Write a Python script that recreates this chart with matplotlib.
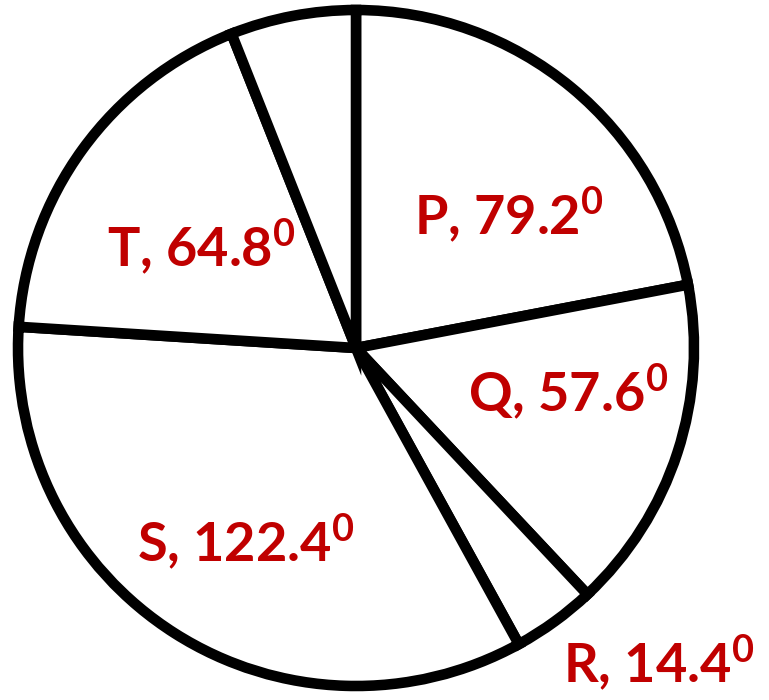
import matplotlib.pyplot as plt

# slice angles in degrees (unlabelled slice is the remainder)
labels = ["P", "Q", "R", "S", "T", ""]
angles = [79.2, 57.6, 14.4, 122.4, 64.8, 21.6]
label_pos = [(414, 235), (468, 412), (563, 683), (137, 562), (107, 267)]

plt.rcParams["mathtext.fontset"] = "custom"
plt.rcParams["mathtext.rm"] = "Lato:bold"
plt.rcParams["mathtext.default"] = "rm"

W, H = 769, 700
fig = plt.figure(figsize=(W / 100, H / 100), dpi=100)
ax = fig.add_axes([0, 0, 1, 1])

ax.pie(angles, startangle=90, counterclock=False, center=(356, H - 348), radius=338,
       colors=["white"] * len(angles),
       wedgeprops=dict(edgecolor="black", linewidth=7.6, joinstyle="miter"),
       frame=True)
ax.set_xlim(0, W)
ax.set_ylim(0, H)
ax.axis("off")

for lab, ang, (x, y) in zip(labels, angles, label_pos):
    ax.text(x, H - y, lab + ", " + str(ang) + r"$^{0}$", color="#C00000",
            fontsize=39, fontweight="bold", family="Lato", ha="left", va="baseline")

fig.savefig("out.png", dpi=100)
